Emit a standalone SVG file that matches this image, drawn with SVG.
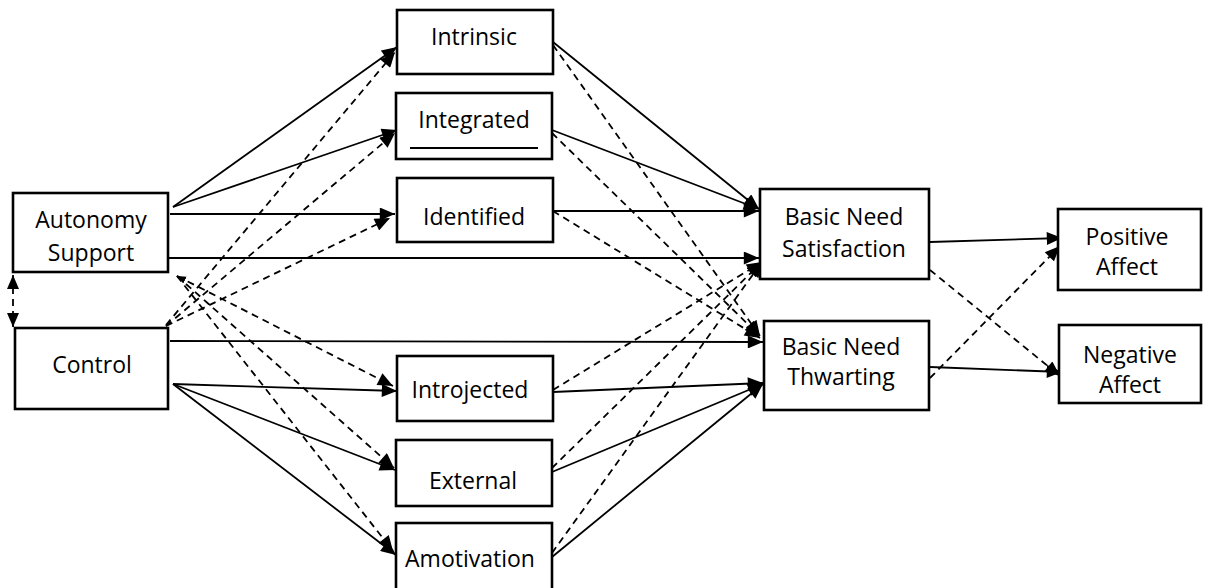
<svg xmlns="http://www.w3.org/2000/svg" width="1206" height="588" viewBox="0 0 1206 588">
<style>
.box{fill:#fff;stroke:#000;stroke-width:2.6}
.t{font-family:"Open Sans","Liberation Sans",sans-serif;font-size:23px;fill:#000;text-anchor:middle}
.s{stroke:#000;stroke-width:1.8;fill:none;marker-end:url(#ah)}
.d{stroke:#000;stroke-width:1.8;fill:none;stroke-dasharray:7 5;marker-end:url(#ah)}
</style>
<defs>
<marker id="ah" viewBox="0 0 14 12" refX="14" refY="6" markerWidth="16" markerHeight="13" markerUnits="userSpaceOnUse" orient="auto">
<path d="M0,0 L14,6 L0,12 z" fill="#000"/>
</marker>
<marker id="ahs" viewBox="0 0 14 12" refX="14" refY="6" markerWidth="9" markerHeight="8" markerUnits="userSpaceOnUse" orient="auto-start-reverse">
<path d="M0,0 L14,6 L0,12 z" fill="#000"/>
</marker>
<marker id="ah2" viewBox="0 0 14 12" refX="14" refY="6" markerWidth="14" markerHeight="13" markerUnits="userSpaceOnUse" orient="auto-start-reverse">
<path d="M0,0 L14,6 L0,12 z" fill="#000"/>
</marker>
</defs>
<g id="connectors">
<line class="s" x1="173" y1="207" x2="397" y2="47"/>
<line class="s" x1="173" y1="207" x2="397" y2="130"/>
<line class="s" x1="170" y1="214" x2="395" y2="214"/>
<line class="s" x1="168" y1="258" x2="759" y2="258"/>
<line class="s" x1="170" y1="341" x2="763" y2="342"/>
<line class="s" x1="173" y1="384" x2="397" y2="391"/>
<line class="s" x1="173" y1="384" x2="395" y2="470"/>
<line class="s" x1="173" y1="384" x2="396" y2="555"/>
<line class="s" x1="553" y1="42" x2="759" y2="209"/>
<line class="s" x1="552" y1="130" x2="759" y2="209"/>
<line class="s" x1="553" y1="211" x2="759" y2="211"/>
<line class="s" x1="553" y1="392" x2="763" y2="383"/>
<line class="s" x1="552" y1="472" x2="763" y2="384"/>
<line class="s" x1="552" y1="557" x2="763" y2="384"/>
<line class="s" x1="930" y1="242" x2="1062" y2="238"/>
<line class="s" x1="930" y1="367" x2="1062" y2="372"/>
<line class="d" x1="166" y1="325" x2="395" y2="52"/>
<line class="d" x1="166" y1="326" x2="395" y2="133"/>
<line class="d" x1="166" y1="326" x2="390" y2="218"/>
<line class="d" x1="177" y1="276" x2="393" y2="386" style="marker-start:url(#ahs)"/>
<line class="d" x1="177" y1="276" x2="394" y2="468"/>
<line class="d" x1="177" y1="276" x2="393" y2="551"/>
<line class="d" x1="553" y1="45" x2="760" y2="336"/>
<line class="d" x1="552" y1="133" x2="760" y2="336"/>
<line class="d" x1="553" y1="211" x2="760" y2="338"/>
<line class="d" x1="553" y1="390" x2="762" y2="262"/>
<line class="d" x1="552" y1="468" x2="762" y2="262"/>
<line class="d" x1="552" y1="553" x2="762" y2="262"/>
<line class="d" x1="930" y1="270" x2="1060" y2="376"/>
<line class="d" x1="930" y1="378" x2="1060" y2="246"/>
<line x1="13" y1="275" x2="13" y2="327" stroke="#000" stroke-width="1.8" stroke-dasharray="7 5" marker-start="url(#ah2)" marker-end="url(#ah2)"/>
</g>
<g id="autonomy-support">
<rect class="box" x="13" y="193" width="155" height="79"/>
<text class="t" x="91" y="228">Autonomy</text>
<text class="t" x="91" y="261">Support</text>
</g>
<g id="control">
<rect class="box" x="15" y="328" width="153" height="81"/>
<text class="t" x="92" y="373">Control</text>
</g>
<g id="intrinsic">
<rect class="box" x="397" y="10" width="156" height="64"/>
<text class="t" x="474" y="45">Intrinsic</text>
</g>
<g id="integrated">
<rect class="box" x="396" y="93" width="156" height="66"/>
<text class="t" x="474" y="128">Integrated</text>
<line x1="410" y1="148" x2="538" y2="148" stroke="#000" stroke-width="2"/>
</g>
<g id="identified">
<rect class="box" x="397" y="178" width="156" height="64"/>
<text class="t" x="474" y="225">Identified</text>
</g>
<g id="introjected">
<rect class="box" x="397" y="356" width="156" height="65"/>
<text class="t" x="470" y="398">Introjected</text>
</g>
<g id="external">
<rect class="box" x="396" y="440" width="156" height="66"/>
<text class="t" x="473" y="489">External</text>
</g>
<g id="amotivation">
<rect class="box" x="396" y="523" width="156" height="80"/>
<text class="t" x="470" y="567">Amotivation</text>
</g>
<g id="bn-satisfaction">
<rect class="box" x="760" y="189" width="169" height="90"/>
<text class="t" x="844" y="225">Basic Need</text>
<text class="t" x="844" y="257">Satisfaction</text>
</g>
<g id="bn-thwarting">
<rect class="box" x="764" y="321" width="165" height="89"/>
<text class="t" x="841" y="355">Basic Need</text>
<text class="t" x="841" y="385">Thwarting</text>
</g>
<g id="positive-affect">
<rect class="box" x="1058" y="209" width="143" height="81"/>
<text class="t" x="1127" y="245">Positive</text>
<text class="t" x="1127" y="275">Affect</text>
</g>
<g id="negative-affect">
<rect class="box" x="1059" y="325" width="142" height="78"/>
<text class="t" x="1130" y="363">Negative</text>
<text class="t" x="1130" y="393">Affect</text>
</g>
</svg>
